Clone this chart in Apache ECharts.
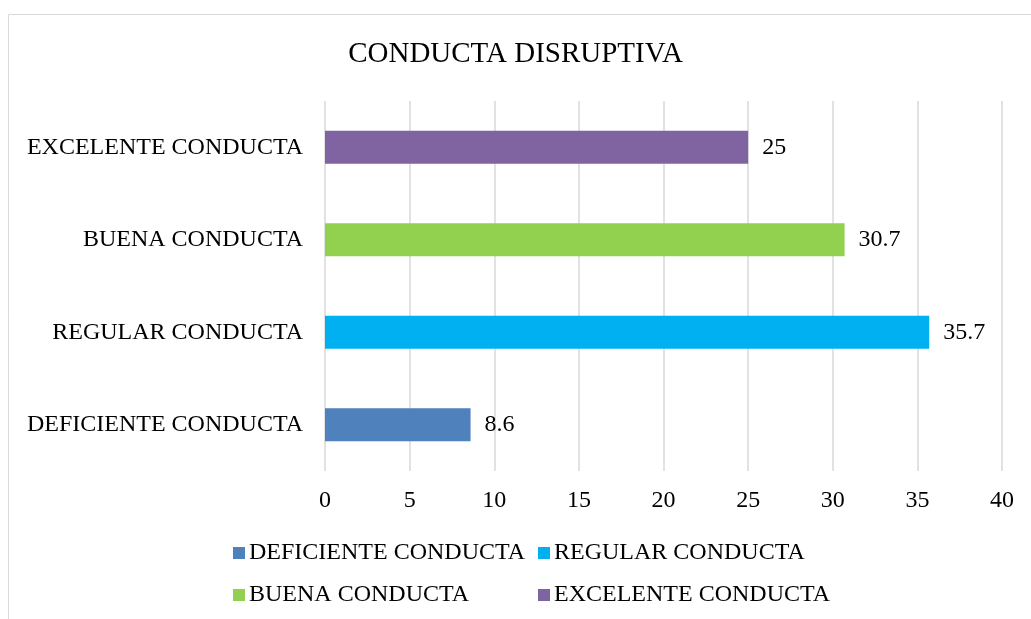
<!DOCTYPE html>
<html><head><meta charset="utf-8">
<script src="https://cdn.jsdelivr.net/npm/echarts@6/dist/echarts.min.js"></script>
<style>html,body{margin:0;padding:0;background:#fff}#c{width:1031px;height:619px}</style>
</head><body><div id="c"></div>
<script>
const categories = ['DEFICIENTE CONDUCTA','REGULAR CONDUCTA','BUENA CONDUCTA','EXCELENTE CONDUCTA'];
const values = [8.6, 35.7, 30.7, 25];
const colors = ['#4F81BD','#00B0F0','#92D050','#8064A2'];
const xTicks = {min:0, max:40, interval:5};
const font = 'Liberation Serif, Times New Roman, serif';

const series = categories.map((name, i) => ({
  name: name,
  type: 'bar',
  stack: 'all',
  barWidth: 33,
  itemStyle: {color: colors[i]},
  label: {show: true, position: 'right', distance: 14, color: '#000', fontFamily: font, fontSize: 24},
  data: categories.map((c, j) => j === i ? values[i] : '-')
}));

const chart = echarts.init(document.getElementById('c'));
chart.setOption({
  animation: false,
  title: {text: 'CONDUCTA DISRUPTIVA', left: 'center', top: 35,
    textStyle: {fontFamily: font, fontSize: 29, fontWeight: 'normal', color: '#000'}},
  graphic: [{type: 'rect', shape: {x: 8.5, y: 14.5, width: 1040, height: 640},
    style: {fill: null, stroke: '#d9d9d9', lineWidth: 1}, silent: true}],
  grid: {left: 325, right: 29, top: 101, bottom: 148, containLabel: false},
  xAxis: {type: 'value', min: xTicks.min, max: xTicks.max, interval: xTicks.interval,
    axisLine: {show: false}, axisTick: {show: false},
    splitLine: {lineStyle: {color: '#d9d9d9', width: 1.5}},
    axisLabel: {fontFamily: font, fontSize: 24, color: '#000', margin: 18}},
  yAxis: {type: 'category', data: categories,
    axisLine: {show: false}, axisTick: {show: false},
    axisLabel: {fontFamily: font, fontSize: 24, color: '#000', margin: 22}},
  legend: [
    {data: [categories[0], categories[2]], orient: 'vertical', left: 228, top: 536, itemGap: 18,
      itemWidth: 12, itemHeight: 12, icon: 'rect',
      textStyle: {fontFamily: font, fontSize: 24, color: '#000', padding: [0,0,0,-1]}},
    {data: [categories[1], categories[3]], orient: 'vertical', left: 533, top: 536, itemGap: 18,
      itemWidth: 12, itemHeight: 12, icon: 'rect',
      textStyle: {fontFamily: font, fontSize: 24, color: '#000', padding: [0,0,0,-1]}}
  ],
  series: series
});
</script></body></html>
